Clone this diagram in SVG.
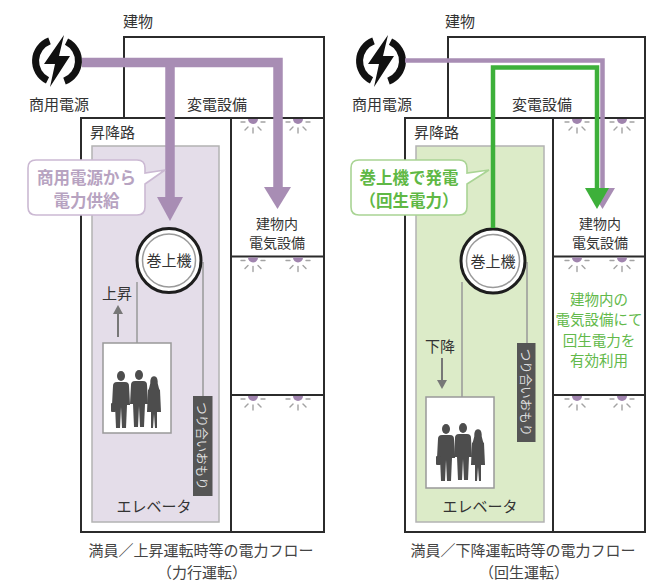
<svg xmlns="http://www.w3.org/2000/svg" width="652" height="583" viewBox="0 0 652 583">
  <style>
    text { font-family: "Noto Sans CJK JP", "Noto Sans", sans-serif; fill: #333; }
    .lbl { font-size: 15px; }
    .sm { font-size: 14px; }
    .mid { text-anchor: middle; }
    .wall { fill: none; stroke: #2b2b2b; stroke-width: 2; }
    .shaft-p { fill: #e4dde9; stroke: #b3b3b3; stroke-width: 1.5; }
    .shaft-g { fill: #dcebc8; stroke: #b3b3b3; stroke-width: 1.5; }
    .rope { stroke: #999; stroke-width: 1.5; fill: none; }
    .car { fill: #fff; stroke: #999; stroke-width: 1.5; }
    .cw { fill: #555; }
    .cwt { font-size: 12.5px; fill: #ddd; }
    .ring { fill: #fff; stroke: #1e1e1e; stroke-width: 3; }
    .ring2 { fill: #fff; stroke: #9a9a9a; stroke-width: 1.5; }
    .bolt-arc { fill: none; stroke: #111; stroke-width: 7; }
    .lamp { fill: #a084ae; }
    .ray { stroke: #a3a3a3; stroke-width: 1.4; stroke-linecap: round; }
    .person { fill: #4d4d4d; filter: url(#soft); }
    .dir { stroke: #777; stroke-width: 2; fill: none; }
    .dirh { fill: #777; }
    .pl { fill: none; stroke: #a88db4; }
    .plh { fill: #a88db4; }
    .gl { fill: none; stroke: #3db03a; stroke-width: 4.5; }
    .glh { fill: #3db03a; }
    .call-p { fill: #fff; stroke: #cbb9d3; stroke-width: 1.6; }
    .call-g { fill: #fff; stroke: #a9d494; stroke-width: 1.6; }
    .ct-p { font-size: 16.5px; font-weight: bold; fill: #b7a3c1; }
    .ct-g { font-size: 16.5px; font-weight: bold; fill: #5fb845; }
    .note-g { font-size: 14.5px; fill: #62b94a; }
    .cap { font-size: 15px; fill: #444; }
  </style>
  <defs>
    <filter id="soft" x="-20%" y="-20%" width="140%" height="140%">
      <feGaussianBlur stdDeviation="0.6"/>
    </filter>
    <!-- power source icon: split ring with a lightning bolt -->
    <g id="power-icon">
      <path class="bolt-arc" d="M-7.5,-20.1 A21.5,21.5 0 0 0 -9.5,19.3"/>
      <path class="bolt-arc" d="M7.5,20.1 A21.5,21.5 0 0 0 9.5,-19.3"/>
      <polygon fill="#111" points="7,-26 -13,3 -2,3 -7,26 13,-5 2,-5"/>
    </g>
    <!-- ceiling lamp hanging under a floor line -->
    <g id="lamp">
      <path class="lamp" d="M-5,0 A5,5 0 0 0 5,0 Z"/>
      <line class="ray" x1="-8" y1="3" x2="-12" y2="3"/>
      <line class="ray" x1="8" y1="3" x2="12" y2="3"/>
      <line class="ray" x1="-5" y1="8" x2="-8" y2="11"/>
      <line class="ray" x1="5" y1="8" x2="8" y2="11"/>
      <line class="ray" x1="0" y1="9" x2="0" y2="14"/>
    </g>
    <!-- passengers -->
    <g id="man">
      <ellipse cx="0" cy="5" rx="4" ry="5"/>
      <path d="M-8,15 Q-8,11 -4,11 L4,11 Q8,11 8,15 L9,34 L6,34 L5,57 L1,57 L0,36 L-1,57 L-5,57 L-6,34 L-9,34 Z"/>
    </g>
    <g id="woman">
      <ellipse cx="0" cy="5" rx="3.6" ry="4.8"/>
      <path d="M-3,4 Q-5,14 -6,14 L-7,36 L-3,36 L-3,52 L-1,52 L0,38 L1,52 L3,52 L3,36 L7,36 L6,14 Q5,14 3,4 Z"/>
    </g>
  </defs>

  <!-- ================= left: motoring operation ================= -->
  <g id="building-left">
    <text class="lbl mid" x="138" y="27">建物</text>
    <polyline class="wall" points="124,118 124,37 324,37 324,532 81,532 81,118 324,118"/>
    <line class="wall" x1="231" y1="118" x2="231" y2="532"/>
    <line class="wall" x1="231" y1="256.5" x2="324" y2="256.5"/>
    <line class="wall" x1="231" y1="395" x2="324" y2="395"/>
    <text class="lbl mid" x="217" y="110">変電設備</text>
    <text class="lbl" x="90" y="138">昇降路</text>
  </g>
  <g id="lamps-left">
    <use href="#lamp" x="253" y="119"/>
    <use href="#lamp" x="298" y="119"/>
    <use href="#lamp" x="253" y="257.5"/>
    <use href="#lamp" x="298" y="257.5"/>
    <use href="#lamp" x="253" y="396"/>
    <use href="#lamp" x="298" y="396"/>
  </g>
  <g id="shaft-left">
    <rect class="shaft-p" x="92" y="146" width="127" height="376"/>
  </g>
  <g id="source-left">
    <use href="#power-icon" x="57" y="61"/>
    <text class="lbl mid" x="59" y="110">商用電源</text>
  </g>
  <g id="hoist-left">
    <line class="rope" x1="137" y1="282" x2="137" y2="343"/>
    <line class="rope" x1="203" y1="262" x2="203" y2="396"/>
    <circle class="ring" cx="169" cy="260.5" r="32"/>
    <circle class="ring2" cx="169" cy="260.5" r="26.5"/>
    <text class="lbl mid" x="169" y="266">巻上機</text>
  </g>
  <g id="car-left">
    <rect class="car" x="103" y="343" width="68" height="90"/>
    <g class="person">
      <use href="#man" x="121" y="371"/>
      <rect x="111" y="403" width="5" height="9" rx="1"/>
      <use href="#man" x="139" y="370"/>
      <use href="#woman" x="154" y="376"/>
    </g>
    <text class="lbl mid" x="154" y="512">エレベータ</text>
  </g>
  <g id="counterweight-left">
    <rect class="cw" x="193" y="396" width="19.5" height="100"/>
    <text class="cwt mid" transform="translate(202.8,446) rotate(90)" dominant-baseline="central">つり合いおもり</text>
  </g>
  <g id="dir-left">
    <text class="lbl mid" x="117" y="299">上昇</text>
    <line class="dir" x1="118" y1="337" x2="118" y2="312"/>
    <polygon class="dirh" points="113,314 118,305 123,314"/>
  </g>
  <g id="load-left">
    <text class="sm mid" x="277" y="229">建物内</text>
    <text class="sm mid" x="277" y="248">電気設備</text>
  </g>
  <g id="connectors-left">
    <path class="pl" stroke-width="9.5" d="M82,62.5 H278 V190"/>
    <path class="pl" stroke-width="9.5" d="M170,62.5 V200"/>
    <polygon class="plh" points="157,197 183,197 170,221"/>
    <polygon class="plh" points="264,187 291,187 277.5,209"/>
  </g>
  <g id="callout-left">
    <path class="call-p" d="M36,160 H137 Q145,160 145,168 V173 L165,170 L145,184 V207 Q145,215 137,215 H36 Q28,215 28,207 V168 Q28,160 36,160 Z"/>
    <text class="ct-p mid" x="86.5" y="184">商用電源から</text>
    <text class="ct-p mid" x="86.5" y="207">電力供給</text>
  </g>
  <g id="caption-left">
    <text class="cap mid" x="201" y="556">満員／上昇運転時等の電力フロー</text>
    <text class="cap mid" x="202" y="578">（力行運転）</text>
  </g>

  <!-- ================= right: regenerative operation ================= -->
  <g id="building-right">
    <text class="lbl mid" x="460" y="27">建物</text>
    <polyline class="wall" points="448,118 448,37 645,37 645,532 405,532 405,118 645,118"/>
    <line class="wall" x1="553" y1="118" x2="553" y2="532"/>
    <line class="wall" x1="553" y1="256.5" x2="645" y2="256.5"/>
    <line class="wall" x1="553" y1="395" x2="645" y2="395"/>
    <text class="lbl mid" x="542" y="110">変電設備</text>
    <text class="lbl" x="414" y="138">昇降路</text>
  </g>
  <g id="lamps-right">
    <use href="#lamp" x="577" y="119"/>
    <use href="#lamp" x="622" y="119"/>
    <use href="#lamp" x="577" y="257.5"/>
    <use href="#lamp" x="622" y="257.5"/>
    <use href="#lamp" x="577" y="396"/>
    <use href="#lamp" x="622" y="396"/>
  </g>
  <g id="shaft-right">
    <rect class="shaft-g" x="416" y="146" width="128" height="376"/>
  </g>
  <g id="source-right">
    <use href="#power-icon" x="381" y="61"/>
    <text class="lbl mid" x="382" y="110">商用電源</text>
  </g>
  <g id="hoist-right">
    <line class="rope" x1="462" y1="282" x2="462" y2="397"/>
    <line class="rope" x1="527" y1="262" x2="527" y2="343"/>
    <circle class="ring" cx="493" cy="261" r="32"/>
    <circle class="ring2" cx="493" cy="261" r="26.5"/>
    <text class="lbl mid" x="493" y="266.5">巻上機</text>
  </g>
  <g id="car-right">
    <rect class="car" x="426" y="397" width="68" height="91"/>
    <g class="person">
      <use href="#man" x="446" y="424"/>
      <rect x="436" y="456" width="5" height="9" rx="1"/>
      <use href="#man" x="463" y="423"/>
      <use href="#woman" x="478" y="429"/>
    </g>
    <text class="lbl mid" x="480" y="512">エレベータ</text>
  </g>
  <g id="counterweight-right">
    <rect class="cw" x="517" y="343" width="18.5" height="99"/>
    <text class="cwt mid" transform="translate(526.2,392.5) rotate(90)" dominant-baseline="central">つり合いおもり</text>
  </g>
  <g id="dir-right">
    <text class="lbl mid" x="440" y="352">下降</text>
    <line class="dir" x1="442" y1="358" x2="442" y2="382"/>
    <polygon class="dirh" points="437,380 442,389 447,380"/>
  </g>
  <g id="load-right">
    <text class="sm mid" x="600" y="229">建物内</text>
    <text class="sm mid" x="600" y="248">電気設備</text>
    <text class="note-g mid" x="599" y="305">建物内の</text>
    <text class="note-g mid" x="599" y="325">電気設備にて</text>
    <text class="note-g mid" x="599" y="346">回生電力を</text>
    <text class="note-g mid" x="599" y="366">有効利用</text>
  </g>
  <g id="connectors-right">
    <path class="pl" stroke-width="4.5" d="M405,60.5 H602.5 V192"/>
    <polygon class="plh" points="590,188 615,188 602.5,209"/>
    <path class="gl" d="M493,228 V67.5 H597 V192"/>
    <polygon class="glh" points="585,188 609,188 597,209"/>
  </g>
  <g id="callout-right">
    <path class="call-g" d="M359,160 H459 Q467,160 467,168 V173 L489,170 L467,184 V207 Q467,215 459,215 H359 Q351,215 351,207 V168 Q351,160 359,160 Z"/>
    <text class="ct-g mid" x="409" y="184">巻上機で発電</text>
    <text class="ct-g mid" x="409" y="207">（回生電力）</text>
  </g>
  <g id="caption-right">
    <text class="cap mid" x="523" y="556">満員／下降運転時等の電力フロー</text>
    <text class="cap mid" x="524" y="578">（回生運転）</text>
  </g>
</svg>
